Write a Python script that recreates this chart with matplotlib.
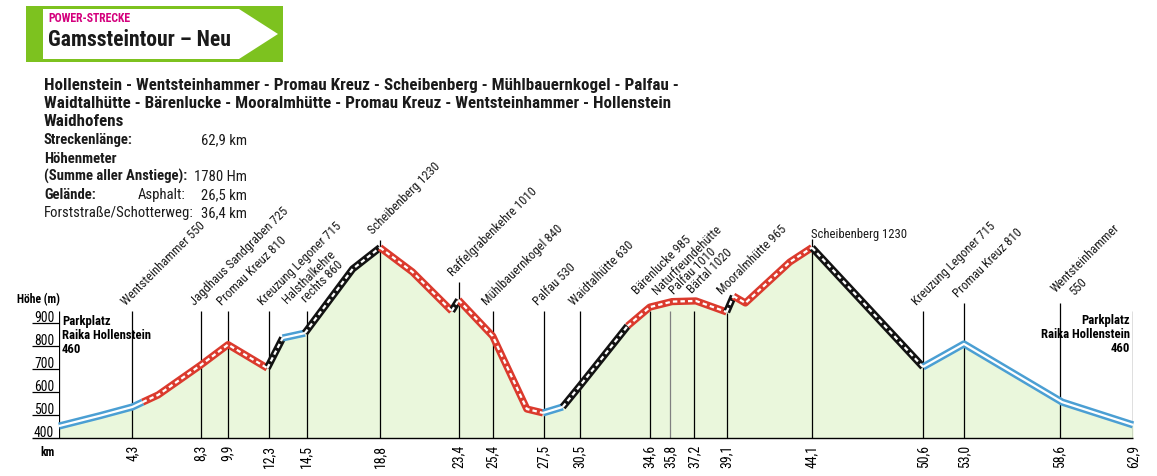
import matplotlib
matplotlib.use('Agg')
import matplotlib.pyplot as plt
from matplotlib import font_manager as fm
from matplotlib.patches import Polygon, Rectangle
from matplotlib.transforms import offset_copy

W, H = 1157, 477

# elevation profile (km, m) and the surface of each stretch between two points
profile_km = [0, 2.4, 4.3, 4.9, 5.8, 8.3, 9.9, 12.2, 13.1, 14.4, 17.2, 18.8, 20.7, 23.0,
              23.4, 25.4, 27.4, 28.35, 29.5, 30.5, 33.3, 34.6, 35.9, 37.3, 39.1, 39.5,
              40.2, 42.8, 44.1, 50.6, 53.0, 58.75, 62.9]
profile_m = [452, 497, 535, 556, 587, 717, 806, 704, 835, 856, 1135, 1228, 1122, 952,
             1000, 843, 526, 509, 535, 626, 887, 969, 993, 996, 948, 1017,
             987, 1165, 1228, 709, 809, 556, 457]
surface = ['asphalt', 'asphalt', 'asphalt', 'forst', 'forst', 'forst', 'forst',
           'schotter', 'asphalt', 'schotter', 'schotter', 'forst', 'forst', 'schotter',
           'forst', 'forst', 'forst', 'asphalt', 'schotter', 'schotter', 'forst', 'forst',
           'forst', 'forst', 'schotter', 'forst', 'forst', 'forst', 'schotter',
           'asphalt', 'asphalt', 'asphalt']

# waypoints
marker_km = [4.3, 8.3, 9.9, 12.3, 14.5, 18.8, 23.4, 25.4, 28.4, 30.5, 34.6, 35.8, 37.2,
             39.1, 44.1, 50.6, 53.0, 58.6, 62.9]
marker_ticks = ['4,3', '8,3', '9,9', '12,3', '14,5', '18,8', '23,4', '25,4', '27,5', '30,5',
                '34,6', '35,8', '37,2', '39,1', '44,1', '50,6', '53,0', '58,6', '62,9']
marker_top = [952, 952, 952, 952, 952, 1261, 1078, 952, 952, 952, 952, 952, 952,
              945, 1265, 952, 987, 987, 952]
marker_names = ['Wentsteinhammer 550', 'Jagdhaus Sandgraben 725', 'Promau Kreuz 810',
                'Kreuzung Legoner 715', 'Halsthalkehre\nrechts 860', 'Scheibenberg 1230',
                'Raffelgrabenkehre 1010', 'Mühlbauernkogel 840', 'Palfau 530',
                'Waidtalhütte 630', 'Bärenlucke 985', 'Naturfreundehütte\nPalfau 1010',
                'Bärtal 1020', 'Mooralmhütte 965', 'Scheibenberg 1230',
                'Kreuzung Legoner 715', 'Promau Kreuz 810', 'Wentsteinhammer\n550', '']

y_ticks = [400, 500, 600, 700, 800, 900]

route = ['Hollenstein - Wentsteinhammer - Promau Kreuz - Scheibenberg - Mühlbauernkogel - Palfau -',
         'Waidtalhütte - Bärenlucke - Mooralmhütte - Promau Kreuz - Wentsteinhammer - Hollenstein',
         'Waidhofens']
start_lines = ['Parkplatz', 'Raika Hollenstein', '460']

COL = {'asphalt': '#4b9fd3', 'forst': '#db3a2d', 'schotter': '#121212'}
GREEN = '#7dc21f'
FILL = '#eaf7dc'
INK = '#1a1a1a'


def pick(names):
    for n in names:
        try:
            fm.findfont(fm.FontProperties(family=n), fallback_to_default=False)
            return n
        except ValueError:
            pass
    return 'DejaVu Sans'


FONT = pick(['Liberation Sans Narrow', 'DejaVu Sans Condensed', 'Roboto Condensed', 'DejaVu Sans'])
plt.rcParams['font.family'] = [FONT, 'DejaVu Sans']

fig = plt.figure(figsize=(W / 100, H / 100), dpi=100)
renderer = fig.canvas.get_renderer()


def fit(s, width_px, **kw):
    t = fig.text(0, 0, s, fontsize=10, **kw)
    w = t.get_window_extent(renderer).width
    t.remove()
    return 10 * width_px / w


# overlay in pixel coords for the header
ov = fig.add_axes([0, 0, 1, 1], zorder=0)
ov.set_xlim(0, W)
ov.set_ylim(H, 0)
ov.axis('off')

ov.add_patch(Rectangle((26, 7), 257, 56, color=GREEN, lw=0))
ov.add_patch(Polygon([(43, 10), (239, 10), (278, 35), (239, 60), (43, 60)], color='white', lw=0))
ov.text(48, 22, 'POWER-STRECKE', color='#d4007d', weight='bold', va='baseline',
        fontsize=fit('POWER-STRECKE', 83, weight='bold'))
ov.text(48, 46, 'Gamssteintour – Neu', color=INK, weight='bold', va='baseline',
        fontsize=fit('Gamssteintour – Neu', 183, weight='bold'))

fs_route = fit(route[0], 632, weight='bold')
for i, line in enumerate(route):
    ov.text(44, 90 + 18 * i, line, weight='bold', va='baseline', fontsize=fs_route, color=INK)

fs_info = fit('(Summe aller Anstiege):', 143, weight='semibold')
info = [('Streckenlänge:', 144, '62,9 km'), ('Höhenmeter', 163, ''),
        ('(Summe aller Anstiege):', 181, '1780 Hm'), ('Gelände:', 199, '26,5 km')]
for lab, y, val in info:
    ov.text(44, y, lab, weight='semibold', va='baseline', fontsize=fs_info, color=INK)
    if val:
        ov.text(247, y, val, ha='right', va='baseline', fontsize=fs_info, color=INK)
ov.text(185, 199, 'Asphalt:', ha='right', va='baseline', fontsize=fs_info, color=INK)
ov.text(44, 217, 'Forststraße/Schotterweg:', va='baseline', fontsize=fs_info, color=INK)
ov.text(247, 217, '36,4 km', ha='right', va='baseline', fontsize=fs_info, color=INK)

fs_small = fit('Höhe (m)', 43, weight='bold')
ov.text(17, 303, 'Höhe (m)', weight='bold', va='baseline', fontsize=fs_small)
ov.text(40, 456, 'km', weight='bold', va='baseline', fontsize=fs_small)

fs_park = fit('Raika Hollenstein', 89, weight='bold')
for i, line in enumerate(start_lines):
    ov.text(62, 325 + 14 * i, line, weight='bold', va='baseline', fontsize=fs_park)
    ov.text(1130, 324 + 14 * i, line, weight='bold', va='baseline', ha='right', fontsize=fs_park)

# chart axes: 0..62.9 km -> 59..1133 px, 400..1300 m -> 439..232 px
ax = fig.add_axes([59 / W, 38 / H, 1074 / W, 207 / H], zorder=1)
ax.patch.set_alpha(0)
ax.set_xlim(0, 62.9)
ax.set_ylim(400, 1300)
ax.axis('off')

ax.fill_between(profile_km, profile_m, 400, color=FILL, lw=0, zorder=1)

gray = ['#808080' if n.startswith('Naturfreunde') else 'black' for n in marker_names]
ax.vlines(marker_km, 400, marker_top, colors=gray, lw=0.9, zorder=2)
ax.vlines(0, 400, 952, color='black', lw=0.9, zorder=2)

yax = ax.get_yaxis_transform()
ax.hlines(y_ticks[1:], -27 / 1074, 0, transform=yax, color='black', lw=0.9, clip_on=False, zorder=2)
ax.hlines(400, -27 / 1074, 1, transform=yax, color='black', lw=1.0, clip_on=False, zorder=3)
fs_tick = fit('900', 20)
for v in y_ticks:
    ax.text(-25 / 1074, v, str(v), transform=offset_copy(yax, fig, y=2, units='dots'),
            ha='left', va='baseline', fontsize=fs_tick, clip_on=False)

fs_xt = fit('14,5', 23)
for k, lab in zip(marker_km, marker_ticks):
    ax.text(k, 400, lab, rotation=90, ha='center', va='top', fontsize=fs_xt,
            transform=offset_copy(ax.transData, fig, y=-6, units='dots'), clip_on=False)

# route line, grouped in runs of the same surface
i = 0
while i < len(surface):
    j = i
    while j + 1 < len(surface) and surface[j + 1] == surface[i]:
        j += 1
    xs = profile_km[i:j + 2]
    ys = profile_m[i:j + 2]
    s = surface[i]
    ax.plot(xs, ys, color=COL[s], lw=5.2, solid_joinstyle='round', solid_capstyle='butt',
            zorder=4, clip_on=False)
    if s == 'asphalt':
        ax.plot(xs, ys, color='white', lw=1.6, solid_capstyle='butt', zorder=5, clip_on=False)
    else:
        ax.plot(xs, ys, color='white', lw=1.6, dashes=(2.0, 1.4), zorder=5, clip_on=False)
    i = j + 1

# waypoint names, one text per line; offsets in px (right, down) from the marker top
fs_lab = fit('Wentsteinhammer 550', 112)
nudge = {'Bärenlucke 985': (-13, -17), 'Naturfreundehütte': (-13, -17),
         'Palfau 1010': (4, -17), 'Bärtal 1020': (-2, -18), 'Mooralmhütte 965': (-5, -19),
         'Halsthalkehre': (-20, -8), 'rechts 860': (-1, -9),
         'Wentsteinhammer': (-4, -11), '550': (15, -8), 'Scheibenberg 1230': (-7, -6)}
for k, top, name in zip(marker_km, marker_top, marker_names):
    if not name:
        continue
    rot = 45
    if k > 40 and name.startswith('Scheibenberg'):
        rot = 0
    for line in name.split('\n'):
        dx, dy = (-1, -2) if rot == 0 else nudge.get(line, (-6, -6))
        ax.text(k, top, line, rotation=rot, rotation_mode='anchor', ha='left', va='baseline',
                fontsize=fs_lab, color=INK, clip_on=False, zorder=6,
                transform=offset_copy(ax.transData, fig, x=dx, y=-dy, units='dots'))

fig.savefig('out.png', dpi=100)
